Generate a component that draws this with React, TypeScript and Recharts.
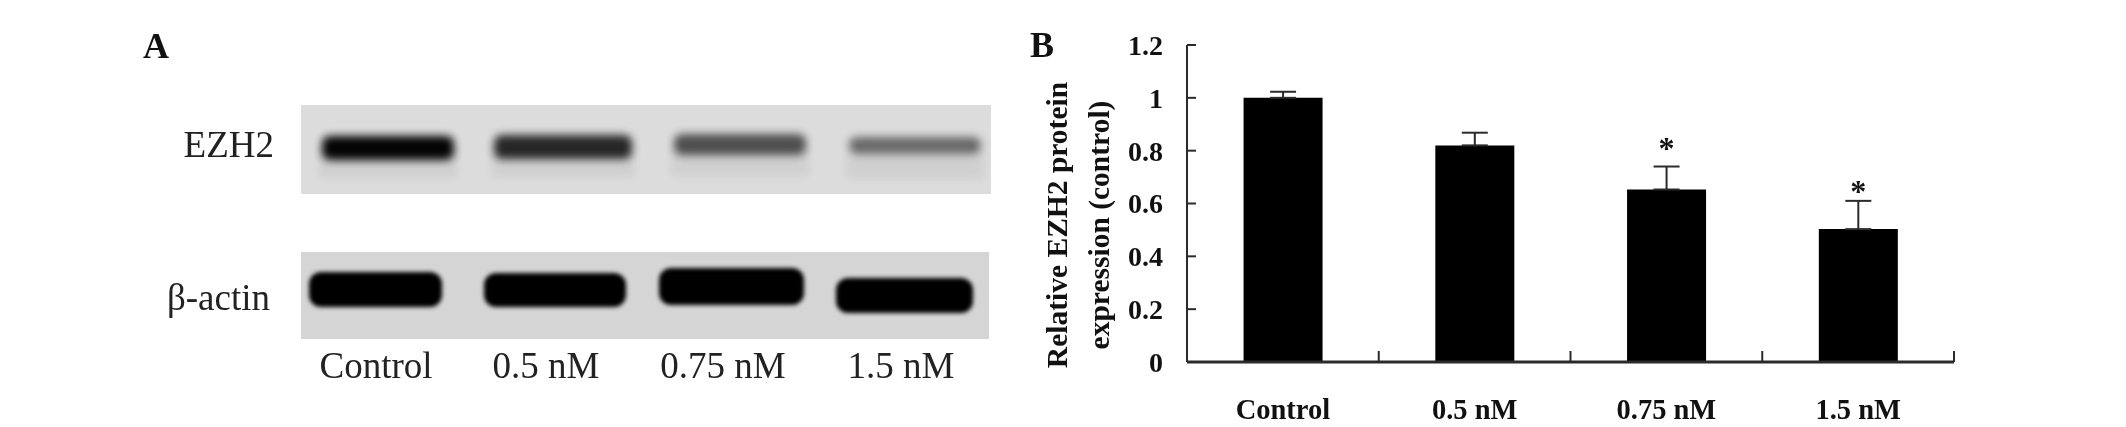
import {
  Bar,
  ComposedChart,
  ErrorBar,
  LabelList,
  Line,
  Text,
  XAxis,
  YAxis,
} from "recharts";

const categories = ["Control", "0.5 nM", "0.75 nM", "1.5 nM"];
const expression = [1.0, 0.82, 0.653, 0.503];
const errorTop = [1.023, 0.868, 0.74, 0.61];
const marks = [null, null, "*", "*"];
// asterisks don't sit at a constant distance above the error bars
const markLevel = [null, null, 0.8, 0.635];
const yTicks = [0, 0.2, 0.4, 0.6, 0.8, 1, 1.2];

const ezh2Darkness = [0.98, 0.82, 0.64, 0.52];
const actinDarkness = [1, 1, 1, 1];

const chartData = categories.map((name, i) => ({
  name,
  value: expression[i],
  error: [0, errorTop[i] - expression[i]],
  markAt: markLevel[i],
  mark: marks[i],
}));

const SERIF = "'Liberation Serif', 'Times New Roman', serif";
const AXIS = "#2b2b2b";
const LABEL_GAP = 37;
const LANE_WIDTH = 191.75;

// the western blot is a photo, so panel A is only an approximation with blurred rects
const ezh2Bands = [
  { x: 319, y: 136, w: 138, h: 24 },
  { x: 491, y: 135, w: 144, h: 24 },
  { x: 671, y: 134, w: 138, h: 21 },
  { x: 846, y: 137, w: 138, h: 17 },
];
const actinBands = [
  { x: 309, y: 272, w: 133, h: 35 },
  { x: 484, y: 273, w: 142, h: 34 },
  { x: 659, y: 268, w: 145, h: 37 },
  { x: 836, y: 278, w: 137, h: 35 },
];

// category label plus the small upward tick on the lane's right edge
function LaneTick(props: any) {
  const { x, y, payload, textAnchor, verticalAnchor } = props;
  const edge = x + LANE_WIDTH / 2;
  const base = y - LABEL_GAP;
  return (
    <g>
      <line
        x1={edge}
        x2={edge}
        y1={base}
        y2={base - 11}
        stroke={AXIS}
        strokeWidth={2}
      />
      <Text
        x={x}
        y={y}
        textAnchor={textAnchor}
        verticalAnchor={verticalAnchor}
        fontSize={28.5}
        fontWeight="bold"
        fill="#111"
      >
        {payload.value}
      </Text>
    </g>
  );
}

function BlotPanel() {
  return (
    <svg
      width={2126}
      height={427}
      style={{ position: "absolute", left: 0, top: 0 }}
      fontFamily={SERIF}
    >
      <defs>
        <filter id="soft" x="-20%" y="-60%" width="140%" height="220%">
          <feGaussianBlur stdDeviation="4" />
        </filter>
        <filter id="softer" x="-20%" y="-60%" width="140%" height="220%">
          <feGaussianBlur stdDeviation="2.2" />
        </filter>
        <clipPath id="blotClip">
          <rect x={301} y={105} width={690} height={234} />
        </clipPath>
      </defs>
      <rect x={301} y={105} width={690} height={89} fill="#dcdcdc" />
      <rect x={301} y={252} width={688} height={87} fill="#d5d5d5" />
      <g clipPath="url(#blotClip)">
        {ezh2Bands.map((b, i) => (
          <g key={i}>
            <rect
              x={b.x}
              y={b.y + 16}
              width={b.w}
              height={26}
              fill="#000"
              opacity={0.05}
              filter="url(#soft)"
            />
            <rect
              x={b.x + 3}
              y={b.y}
              width={b.w - 6}
              height={b.h}
              rx={8}
              fill="#000"
              opacity={ezh2Darkness[i]}
              filter="url(#soft)"
            />
          </g>
        ))}
        {actinBands.map((b, i) => (
          <rect
            key={i}
            x={b.x}
            y={b.y}
            width={b.w}
            height={b.h}
            rx={12}
            fill="#000"
            opacity={actinDarkness[i]}
            filter="url(#softer)"
          />
        ))}
      </g>
      <text x={143} y={58} fontSize={36} fontWeight="bold" fill="#111">
        A
      </text>
      <text x={1030} y={57} fontSize={36} fontWeight="bold" fill="#111">
        B
      </text>
      <text x={274} y={157} fontSize={37} textAnchor="end" fill="#222">
        EZH2
      </text>
      <text x={270} y={310} fontSize={37} textAnchor="end" fill="#222">
        β-actin
      </text>
      {categories.map((c, i) => (
        <text
          key={c}
          x={[376, 546, 723, 901][i]}
          y={378}
          fontSize={37}
          textAnchor="middle"
          fill="#222"
        >
          {c}
        </text>
      ))}
      <g fontSize={29.5} fontWeight="bold" textAnchor="middle" fill="#111">
        <text transform="translate(1067 225) rotate(-90)">
          Relative EZH2 protein
        </text>
        <text transform="translate(1109 225) rotate(-90)">
          expression (control)
        </text>
      </g>
    </svg>
  );
}

export default function App() {
  return (
    <div
      style={{
        position: "absolute",
        left: 0,
        top: 0,
        width: 2126,
        height: 427,
        overflow: "hidden",
        background: "#fff",
        filter: "blur(0.6px)",
      }}
    >
      <BlotPanel />
      <div style={{ position: "absolute", left: 0, top: 0 }}>
        <ComposedChart
          width={2126}
          height={427}
          data={chartData}
          barCategoryGap="29.5%"
          margin={{ top: 45, right: 172, bottom: 5, left: 1127 }}
          style={{ fontFamily: SERIF }}
        >
          <XAxis
            dataKey="name"
            height={60}
            tickLine={false}
            tickSize={0}
            tickMargin={LABEL_GAP}
            axisLine={{ stroke: AXIS, strokeWidth: 3 }}
            tick={<LaneTick />}
            interval={0}
          />
          <YAxis
            width={60}
            domain={[0, 1.2]}
            ticks={yTicks}
            tickSize={-9}
            tickMargin={33}
            axisLine={{ stroke: AXIS, strokeWidth: 2 }}
            tickLine={{ stroke: AXIS, strokeWidth: 2 }}
            tick={{ fontSize: 28, fontWeight: "bold", fill: "#111" }}
          />
          <Bar dataKey="value" fill="#000" isAnimationActive={false}>
            <ErrorBar
              dataKey="error"
              direction="y"
              width={13}
              stroke={AXIS}
              strokeWidth={2}
              isAnimationActive={false}
            />
          </Bar>
          <Line
            dataKey="markAt"
            stroke="none"
            dot={false}
            activeDot={false}
            legendType="none"
            isAnimationActive={false}
          >
            <LabelList
              dataKey="mark"
              position="top"
              offset={-8}
              fontSize={32}
              fontWeight="bold"
              fill="#111"
            />
          </Line>
        </ComposedChart>
      </div>
    </div>
  );
}
